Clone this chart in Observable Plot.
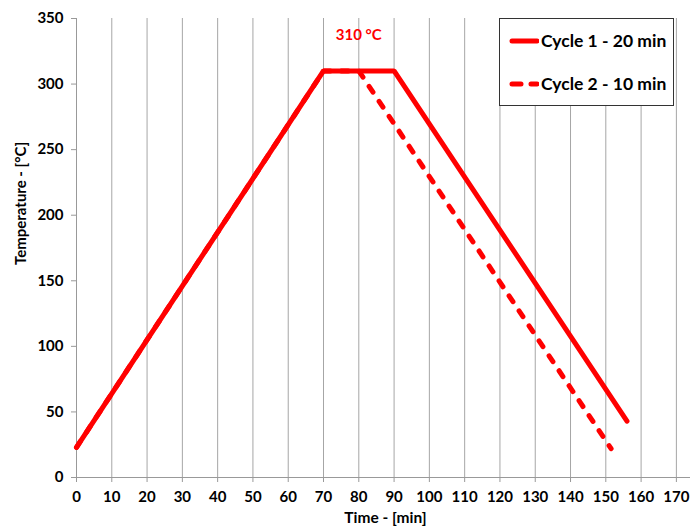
<!DOCTYPE html>
<html><head><meta charset="utf-8">
<script src="https://cdn.jsdelivr.net/npm/d3@7"></script>
<script src="https://cdn.jsdelivr.net/npm/@observablehq/plot@0.6"></script>
<style>
body{margin:0;background:#fff;}
#wrap{position:relative;width:690px;height:529px;font-family:Lato,"Open Sans",sans-serif;}
#legend{position:absolute;left:499px;top:18px;width:175px;height:88px;border:1.5px solid #333;background:#fff;box-sizing:border-box;}
.row{position:absolute;left:9px;display:flex;align-items:center;font-weight:bold;font-size:17.5px;color:#000;}
.row svg{margin-right:2px;}
</style></head>
<body><div id="wrap"><div id="chart"></div>
<div id="legend">
 <div class="row" style="top:11px"><svg width="30" height="10"><line x1="3" y1="5" x2="28" y2="5" stroke="#ff0000" stroke-width="5" stroke-linecap="round"/></svg><span>Cycle 1 - 20 min</span></div>
 <div class="row" style="top:54px"><svg width="30" height="10"><line x1="3" y1="5" x2="28" y2="5" stroke="#ff0000" stroke-width="5" stroke-linecap="round" stroke-dasharray="9,10"/></svg><span>Cycle 2 - 10 min</span></div>
</div></div>
<script>
const cycle1Time = [0, 70, 90, 156];
const cycle1Temp = [23, 310, 310, 43];
const cycle2Time = [0, 70, 80, 151.5];
const cycle2Temp = [23, 310, 310, 22];
const xTicks = d3.range(0, 171, 10);
const yTicks = d3.range(0, 351, 50);
const peakLabel = [{time: 80, temp: 337, text: "310 °C"}];

const c1 = cycle1Time.map((t, i) => ({time: t, temp: cycle1Temp[i]}));
const c2 = cycle2Time.map((t, i) => ({time: t, temp: cycle2Temp[i]}));

const chart = Plot.plot({
  width: 690, height: 529,
  marginLeft: 76, marginRight: 0, marginTop: 18, marginBottom: 52,
  style: {fontFamily: "Lato, 'Open Sans', sans-serif", fontWeight: "bold", fontSize: "15px", color: "#000", background: "#fff"},
  x: {domain: [0, 174]},
  y: {domain: [0, 350]},
  marks: [
    Plot.ruleX(xTicks.slice(1), {stroke: "#a6a6a6", strokeWidth: 1}),
    Plot.ruleX([0], {stroke: "#999"}),
    Plot.ruleY([0], {stroke: "#999"}),
    Plot.axisX({ticks: xTicks, tickSize: 5, tickPadding: 9, stroke: "#999", fill: "#000", fontSize: 15, fontWeight: "bold", label: null}),
    Plot.axisY({ticks: yTicks, tickSize: 5, tickPadding: 8, stroke: "#999", fill: "#000", fontSize: 15, fontWeight: "bold", label: null}),
    Plot.line(c2, {x: "time", y: "temp", stroke: "#ff0000", strokeWidth: 5, strokeDasharray: "7,11", strokeLinecap: "round", strokeLinejoin: "miter"}),
    Plot.line(c1, {x: "time", y: "temp", stroke: "#ff0000", strokeWidth: 5, strokeLinejoin: "miter"}),
    Plot.text(peakLabel, {x: "time", y: "temp", text: "text", fill: "#ff0000", fontSize: 15, fontWeight: "bold"}),
    Plot.text(["Time - [min]"], {frameAnchor: "bottom", dx: 2, dy: 45, fontSize: 15.5, fontWeight: "bold", fill: "#000"}),
    Plot.text(["Temperature - [°C]"], {frameAnchor: "left", dx: -55, dy: 17, rotate: -90, fontSize: 15, fontWeight: "bold", fill: "#000"})
  ]
});
document.getElementById("chart").appendChild(chart);
</script></body></html>
